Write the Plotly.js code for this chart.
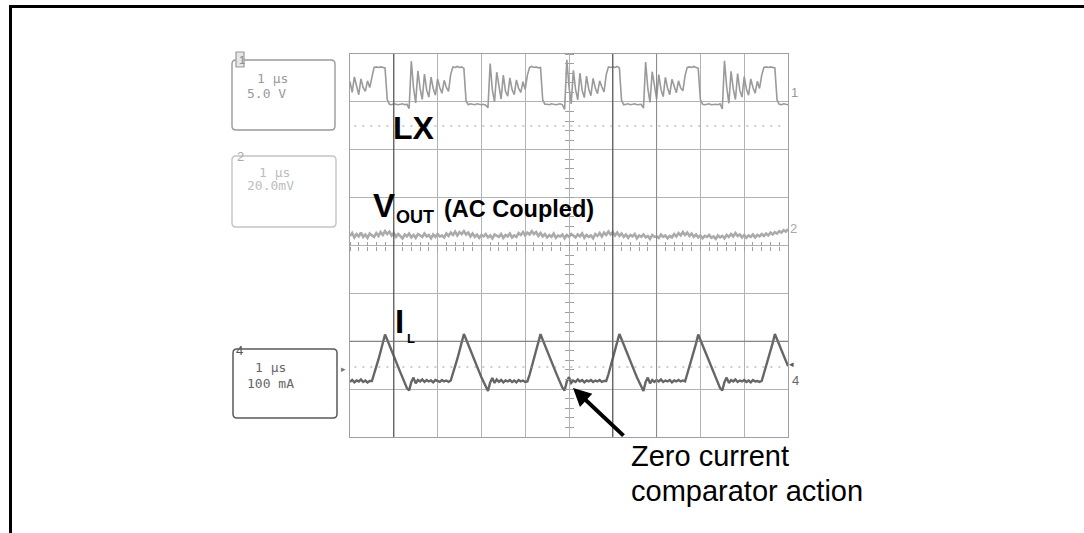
<!DOCTYPE html>
<html><head><meta charset="utf-8">
<script src="https://cdn.plot.ly/plotly-3.0.1.min.js"></script>
<style>html,body{margin:0;padding:0;background:#fff;overflow:hidden}#chart{width:1084px;height:533px}</style>
</head><body><div id="chart"></div>
<script>
// Time base: 1 µs per division, samples every 0.05 µs. Values in screen divisions (0..8).
const timeStart = 0;
const timeStep = 0.05;

const lxTrace = [
7.42,7.20,7.52,7.32,7.15,7.48,7.30,7.22,7.44,7.30,
7.55,7.72,7.73,7.72,7.73,7.72,7.71,7.05,6.95,6.94,6.96,6.95,6.94,6.95,6.96,6.94,6.95,6.86,7.85,7.30,6.98,7.65,7.28,7.05,7.58,7.25,7.10,7.52,7.28,7.14,7.48,7.30,7.18,7.45,7.30,7.22,
7.58,7.73,7.72,7.74,7.72,7.73,7.70,7.02,6.94,6.96,6.95,6.94,6.96,6.95,6.94,6.95,6.93,6.88,7.80,7.25,7.00,7.62,7.30,7.06,7.56,7.22,7.12,7.50,7.26,7.15,7.46,7.28,7.20,7.42,7.26,
7.56,7.72,7.74,7.72,7.73,7.71,7.72,7.04,6.95,6.95,6.94,6.96,6.95,6.94,6.95,6.96,6.94,6.84,7.88,7.32,6.96,7.66,7.26,7.04,7.60,7.24,7.09,7.54,7.27,7.13,7.49,7.29,7.17,7.44,7.31,7.21,
7.57,7.73,7.72,7.73,7.72,7.74,7.71,7.03,6.94,6.95,6.96,6.94,6.95,6.96,6.94,6.95,6.95,6.87,7.83,7.28,6.99,7.63,7.29,7.06,7.57,7.26,7.11,7.51,7.29,7.15,7.47,7.31,7.19,7.44,7.29,7.23,
7.55,7.72,7.73,7.72,7.74,7.72,7.70,7.05,6.95,6.94,6.95,6.96,6.94,6.95,6.95,6.94,6.96,6.85,7.86,7.31,6.97,7.64,7.27,7.05,7.59,7.24,7.10,7.53,7.27,7.14,7.48,7.30,7.18,7.43,7.28,
7.56,7.72,7.73,7.72,7.73,7.72,7.71,7.04,6.95,6.94,6.96,6.95,6.94
];

const voutTrace = [
4.20,4.26,4.17,4.24,4.19,4.27,4.18,4.23,4.16,4.25,4.21,4.18,4.26,4.20,4.28,4.22,4.30,4.24,4.29,4.21,
4.26,4.18,4.24,4.20,4.15,4.23,4.19,4.25,4.17,4.22,4.16,4.24,4.20,4.18,4.25,4.19,4.22,4.15,4.23,4.18,
4.24,4.19,4.21,4.17,4.25,4.20,4.27,4.22,4.29,4.21,4.28,4.24,4.30,4.23,4.27,4.19,4.25,4.18,4.23,4.16,
4.22,4.19,4.24,4.17,4.21,4.15,4.23,4.20,4.18,4.24,4.16,4.22,4.19,4.25,4.17,4.21,4.18,4.26,4.22,4.28,
4.21,4.27,4.23,4.30,4.24,4.28,4.20,4.26,4.19,4.24,4.17,4.22,4.18,4.25,4.16,4.21,4.19,4.23,4.15,4.22,
4.18,4.24,4.20,4.17,4.23,4.19,4.25,4.16,4.22,4.18,4.21,4.15,4.24,4.20,4.26,4.19,4.27,4.22,4.29,4.23,
4.28,4.21,4.27,4.20,4.25,4.18,4.23,4.16,4.22,4.19,4.24,4.15,4.21,4.18,4.23,4.17,4.20,4.14,4.22,4.18,
4.19,4.16,4.23,4.18,4.21,4.15,4.20,4.17,4.24,4.19,4.26,4.21,4.28,4.22,4.27,4.20,4.25,4.18,4.23,4.17,
4.21,4.15,4.20,4.18,4.22,4.16,4.19,4.14,4.21,4.17,4.20,4.15,4.22,4.18,4.24,4.19,4.26,4.20,4.23,4.17,
4.22,4.16,4.21,4.18,4.23,4.17,4.22,4.19,4.24,4.20,4.25,4.21,4.27,4.23,4.28,4.25,4.30,4.27,4.32,4.29,
4.34
];

const ilTrace = [
1.15,1.19,1.14,1.18,1.16,1.20,1.15,1.18,1.14,1.17,
1.17,1.31,1.47,1.62,1.79,1.95,2.14,2.03,1.91,1.80,1.69,1.58,1.46,1.35,1.24,1.13,1.02,0.97,1.15,1.24,1.12,1.19,1.16,1.20,1.15,1.19,1.16,1.18,1.14,1.19,1.17,1.15,1.19,1.16,1.18,1.15,
1.18,1.32,1.48,1.63,1.80,1.96,2.15,2.04,1.92,1.81,1.70,1.58,1.47,1.36,1.25,1.14,1.03,0.96,1.14,1.23,1.13,1.20,1.15,1.19,1.14,1.18,1.16,1.19,1.15,1.18,1.14,1.19,1.16,1.18,1.15,
1.16,1.30,1.46,1.62,1.79,1.96,2.15,2.03,1.91,1.79,1.68,1.57,1.46,1.35,1.24,1.13,1.03,0.97,1.16,1.25,1.13,1.18,1.15,1.20,1.16,1.19,1.14,1.18,1.16,1.19,1.15,1.18,1.16,1.19,1.15,1.17,
1.17,1.31,1.47,1.63,1.80,1.96,2.15,2.04,1.92,1.80,1.69,1.58,1.47,1.36,1.25,1.14,1.03,0.96,1.15,1.24,1.12,1.19,1.15,1.19,1.16,1.20,1.15,1.18,1.16,1.19,1.14,1.18,1.16,1.19,1.16,1.18,
1.16,1.31,1.47,1.62,1.79,1.95,2.14,2.03,1.91,1.80,1.69,1.57,1.46,1.35,1.24,1.13,1.02,0.97,1.15,1.24,1.13,1.19,1.16,1.20,1.15,1.18,1.16,1.19,1.15,1.18,1.14,1.19,1.16,1.17,1.15,
1.17,1.32,1.48,1.63,1.80,1.96,2.15,2.04,1.92,1.80,1.69,1.58,1.48
];

const channelIds = ['1','2','4'];
const timeScales = ['1 µs','1 µs','1 µs'];
const voltScales = ['5.0 V','20.0mV','100 mA'];

// ---------- layout helpers (pixel -> paper) ----------
const L = 350, T = 54, W = 438, H = 383;
const px = x => (x - L) / W;
const py = y => (T + H - y) / H;

function rr(x0, y0, x1, y1, r) {
  return `M${px(x0+r)},${py(y0)} L${px(x1-r)},${py(y0)} Q${px(x1)},${py(y0)} ${px(x1)},${py(y0+r)} ` +
         `L${px(x1)},${py(y1-r)} Q${px(x1)},${py(y1)} ${px(x1-r)},${py(y1)} L${px(x0+r)},${py(y1)} ` +
         `Q${px(x0)},${py(y1)} ${px(x0)},${py(y1-r)} L${px(x0)},${py(y0+r)} Q${px(x0)},${py(y0)} ${px(x0+r)},${py(y0)} Z`;
}

const traces = [
  {type:'scatter', mode:'lines', x0:timeStart, dx:timeStep, y:voutTrace, line:{color:'#ababab', width:2.6}, hoverinfo:'skip'},
  {type:'scatter', mode:'lines', x0:timeStart, dx:timeStep, y:lxTrace, line:{color:'#9a9a9a', width:1.6}, hoverinfo:'skip'},
  {type:'scatter', mode:'lines', x0:timeStart, dx:timeStep, y:ilTrace, line:{color:'#666666', width:2.4}, hoverinfo:'skip'},
  {type:'scatter', x:[], y:[], xaxis:'x2', yaxis:'y', hoverinfo:'skip'},
  {type:'scatter', x:[], y:[], xaxis:'x3', yaxis:'y', hoverinfo:'skip'},
  {type:'scatter', x:[], y:[], xaxis:'x', yaxis:'y2', hoverinfo:'skip'},
  {type:'scatter', x:[], y:[], xaxis:'x', yaxis:'y3', hoverinfo:'skip'}
];

const tickAx = (extra) => Object.assign({range:[0,10], tickmode:'linear', tick0:0, dtick:0.2, ticklen:4, tickwidth:1,
  tickcolor:'#a0a0a0', showticklabels:false, showgrid:false, zeroline:false, showline:false, fixedrange:true}, extra);

const shapes = [
  {type:'line', xref:'x', yref:'paper', x0:1, x1:1, y0:0, y1:1, line:{color:'#555', width:1.2}},
  {type:'line', xref:'x', yref:'paper', x0:6, x1:6, y0:0, y1:1, line:{color:'#555', width:1.2}},
  {type:'line', xref:'x', yref:'paper', x0:7, x1:7, y0:0, y1:1, line:{color:'#888', width:1}},
  {type:'line', xref:'paper', yref:'y', x0:0, x1:1, y0:2, y1:2, line:{color:'#777', width:1.2}},
  {type:'line', xref:'paper', yref:'paper', x0:0.01, x1:0.99, y0:py(126), y1:py(126), line:{color:'#999', width:1.2, dash:'2px,6px'}},
  {type:'line', xref:'paper', yref:'paper', x0:0.01, x1:0.99, y0:py(367), y1:py(367), line:{color:'#999', width:1.2, dash:'2px,6px'}},
  {type:'path', xref:'paper', yref:'paper', path:rr(232,60,335,130,4), line:{color:'#9a9a9a', width:1.4}},
  {type:'path', xref:'paper', yref:'paper', path:rr(232,156,336,227,4), line:{color:'#c4c4c4', width:1.4}},
  {type:'path', xref:'paper', yref:'paper', path:rr(233,349,337,418,4), line:{color:'#5a5a5a', width:1.5}},
  {type:'rect', xref:'paper', yref:'paper', x0:px(236), x1:px(244), y0:py(52), y1:py(67), line:{color:'#9a9a9a', width:1.2}, fillcolor:'#e6e6e6'},
  {type:'line', xref:'paper', yref:'paper', x0:px(10.5), x1:px(10.5), y0:py(5), y1:py(540), line:{color:'#000', width:3}},
  {type:'line', xref:'paper', yref:'paper', x0:px(9), x1:px(1090), y0:py(6.5), y1:py(6.5), line:{color:'#000', width:3}}
];

const ann = (text, x, y, size, color, opts) => Object.assign({text, xref:'paper', yref:'paper', x:px(x), y:py(y),
  xanchor:'left', yanchor:'middle', showarrow:false, font:{family:'Liberation Sans, Arial, sans-serif', size, color}}, opts||{});
const mono = (text, x, y, color) => ann(text, x, y, 13, color, {font:{family:'DejaVu Sans Mono, monospace', size:13, color}});

const annotations = [
  ann('<b>LX</b>', 391, 128, 32, '#000'),
  ann('<b>V</b>', 371, 205, 33, '#000'),
  ann('<b>OUT</b>', 394, 217, 18, '#000'),
  ann('<b>(AC Coupled)</b>', 442, 209, 23.5, '#000'),
  ann('<b>I</b>', 393, 321, 33, '#000'),
  ann('<b>L</b>', 405, 338, 13, '#000'),
  ann('Zero current', 629, 456, 29, '#000'),
  ann('comparator action', 629, 491, 29, '#000'),
  {text:'', xref:'paper', yref:'paper', x:px(573), y:py(388), ax:52, ay:49, showarrow:true, arrowhead:2, arrowsize:0.9,
   arrowwidth:4, arrowcolor:'#000', standoff:0},
  mono(timeScales[0], 255, 78, '#9a9a9a'), mono(voltScales[0], 245, 94, '#9a9a9a'),
  mono(timeScales[1], 257, 172, '#bdbdbd'), mono(voltScales[1], 245, 186, '#bdbdbd'),
  mono(timeScales[2], 253, 367, '#666'), mono(voltScales[2], 245, 383, '#666'),
  ann(channelIds[0], 236.5, 60, 11, '#888'),
  ann(channelIds[1], 235, 156, 13, '#aaa'),
  ann(channelIds[2], 234, 350, 13, '#555'),
  ann(channelIds[0], 789, 92, 13, '#999'),
  ann(channelIds[1], 788, 228, 13, '#aaa'),
  ann(channelIds[2], 790, 380, 13, '#666'),
  ann('▸', 339, 369, 9, '#777'),
  ann('◂', 787, 364, 9, '#555')
];

const layout = {
  width:1084, height:533,
  margin:{l:L, r:1084-L-W, t:T, b:533-T-H, pad:0},
  paper_bgcolor:'#fff', plot_bgcolor:'#fff', showlegend:false,
  xaxis:{range:[0,10], dtick:1, tick0:0, showgrid:true, gridcolor:'#b3b3b3', gridwidth:1, zeroline:false,
         showline:true, mirror:true, linecolor:'#a0a0a0', linewidth:1, showticklabels:false, ticks:'', fixedrange:true},
  yaxis:{range:[0,8], dtick:1, tick0:0, showgrid:true, gridcolor:'#b3b3b3', gridwidth:1, zeroline:false,
         showline:true, mirror:true, linecolor:'#a0a0a0', linewidth:1, showticklabels:false, ticks:'', fixedrange:true},
  xaxis2: tickAx({overlaying:'x', anchor:'free', position:0.5, side:'bottom', ticks:'outside'}),
  xaxis3: tickAx({overlaying:'x', anchor:'free', position:0.5, side:'top', ticks:'outside'}),
  yaxis2: tickAx({range:[0,8], overlaying:'y', anchor:'free', position:0.5, side:'left', ticks:'outside'}),
  yaxis3: tickAx({range:[0,8], overlaying:'y', anchor:'free', position:0.5, side:'right', ticks:'outside'}),
  shapes, annotations
};

Plotly.newPlot('chart', traces, layout, {staticPlot:true, displayModeBar:false});
</script></body></html>
